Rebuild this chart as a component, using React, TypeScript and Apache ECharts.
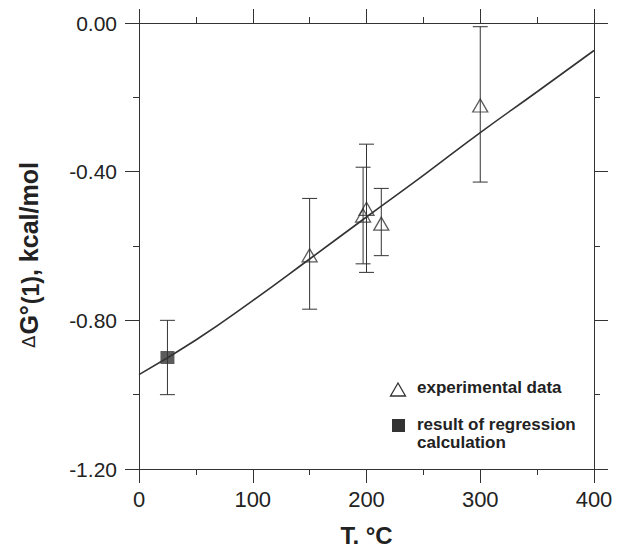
import React, { useEffect, useRef } from "react";
import * as echarts from "echarts";

// Experimental data (triangles)
const expT = [150, 197, 200, 213, 300];
const expG = [-0.625, -0.518, -0.5, -0.54, -0.222];
const expLow = [-0.77, -0.648, -0.671, -0.626, -0.428];
const expHigh = [-0.472, -0.388, -0.326, -0.445, -0.01];

// Regression result (square)
const regT = [25];
const regG = [-0.9];
const regLow = [-1.0];
const regHigh = [-0.8];

// Fitted curve
const fitT = [0, 50, 100, 150, 200, 250, 300, 350, 400];
const fitG = [-0.946, -0.853, -0.747, -0.635, -0.522, -0.41, -0.295, -0.185, -0.074];

const xTicks = [0, 100, 200, 300, 400];

const INK = "#333";
const FONT = "Liberation Sans, Arial, sans-serif";

export default function App() {
  const ref = useRef<HTMLDivElement>(null);
  useEffect(() => {
    if (!ref.current) return;
    const chart = echarts.init(ref.current, null, { renderer: "svg" });

    const errData = [
      ...expT.map((t, i) => [t, expLow[i], expHigh[i]]),
      ...regT.map((t, i) => [t, regLow[i], regHigh[i]]),
    ];

    const axisCommon = {
      axisLine: { show: true, onZero: false, lineStyle: { color: INK, width: 1 } },
      axisTick: { show: true, inside: false, length: 14, lineStyle: { color: INK } },
      minorTick: { show: true, splitNumber: 2, length: 6, lineStyle: { color: INK } },
      splitLine: { show: false },
    };

    const option: any = {
      animation: false,
      backgroundColor: "#fff",
      grid: { left: 139, right: 30, top: 23, bottom: 77, containLabel: false },
      xAxis: [
        {
          type: "value",
          min: 0,
          max: 400,
          interval: 100,
          position: "bottom",
          ...axisCommon,
          axisLabel: {
            show: true,
            margin: 19,
            fontSize: 22,
            color: "#222",
            fontFamily: FONT,
            customValues: xTicks,
          },
          name: "T, °C",
          nameLocation: "middle",
          nameGap: 54,
          nameTextStyle: {
            fontSize: 24,
            fontWeight: "bold",
            color: "#222",
            fontFamily: FONT,
          },
        },
        {
          type: "value",
          min: 0,
          max: 400,
          interval: 100,
          position: "top",
          ...axisCommon,
          axisLabel: { show: false },
        },
      ],
      yAxis: [
        {
          type: "value",
          min: -1.2,
          max: 0,
          interval: 0.4,
          position: "left",
          ...axisCommon,
          axisLabel: {
            show: true,
            margin: 22,
            fontSize: 21,
            color: "#222",
            fontFamily: FONT,
            formatter: (v: number) => v.toFixed(2),
          },
          name: "{d|Δ}{g|G°}{p|(1)}{g|, kcal/mol}",
          nameLocation: "middle",
          nameGap: 97,
          nameRotate: 90,
          nameTextStyle: {
            color: "#222",
            fontFamily: FONT,
            padding: [0, 18, 0, 0],
            rich: {
              d: { fontSize: 18, fontWeight: "normal", color: "#222", fontFamily: "DejaVu Sans, sans-serif", padding: [0, 1, 0, 0] },
              g: { fontSize: 25, fontWeight: "bold", color: "#222", fontFamily: FONT },
              p: { fontSize: 23, fontWeight: "bold", color: "#222", fontFamily: FONT, padding: [4, 0, 0, 1] },
            },
          },
        },
        {
          type: "value",
          min: -1.2,
          max: 0,
          interval: 0.4,
          position: "right",
          ...axisCommon,
          axisLabel: { show: false },
        },
      ],
      series: [
        {
          name: "fit",
          type: "line",
          data: fitT.map((t, i) => [t, fitG[i]]),
          smooth: true,
          showSymbol: false,
          lineStyle: { color: INK, width: 1.6 },
          z: 2,
        },
        {
          name: "errors",
          type: "custom",
          data: errData,
          z: 3,
          renderItem: (params: any, api: any) => {
            const x = api.value(0);
            const lo = api.coord([x, api.value(1)]);
            const hi = api.coord([x, api.value(2)]);
            const w = 7.5;
            const style = { stroke: INK, lineWidth: 1 };
            return {
              type: "group",
              children: [
                { type: "line", shape: { x1: lo[0], y1: lo[1], x2: hi[0], y2: hi[1] }, style },
                { type: "line", shape: { x1: lo[0] - w, y1: lo[1], x2: lo[0] + w, y2: lo[1] }, style },
                { type: "line", shape: { x1: hi[0] - w, y1: hi[1], x2: hi[0] + w, y2: hi[1] }, style },
              ],
            };
          },
        },
        {
          name: "experimental data",
          type: "scatter",
          data: expT.map((t, i) => [t, expG[i]]),
          symbol: "triangle",
          symbolSize: [15, 13],
          itemStyle: { color: "rgba(255,255,255,0)", borderColor: INK, borderWidth: 1.3 },
          z: 4,
        },
        {
          name: "result of regression calculation",
          type: "scatter",
          data: regT.map((t, i) => [t, regG[i]]),
          symbol: "rect",
          symbolSize: [14, 13],
          itemStyle: { color: INK },
          z: 4,
        },
      ],
      graphic: [
        {
          type: "polygon",
          shape: { points: [[398, 383], [390.5, 396], [405.5, 396]] },
          style: { fill: "rgba(255,255,255,0)", stroke: INK, lineWidth: 1.3 },
        },
        {
          type: "rect",
          shape: { x: 392, y: 419, width: 13, height: 13 },
          style: { fill: INK },
        },
        {
          type: "text",
          x: 417,
          y: 387,
          style: {
            text: "experimental data",
            fontSize: 17,
            fontWeight: "bold",
            fill: "#222",
            fontFamily: FONT,
            verticalAlign: "middle",
          },
        },
        {
          type: "text",
          x: 417,
          y: 424,
          style: {
            text: "result of regression",
            fontSize: 17,
            fontWeight: "bold",
            fill: "#222",
            fontFamily: FONT,
            verticalAlign: "middle",
          },
        },
        {
          type: "text",
          x: 417,
          y: 442,
          style: {
            text: "calculation",
            fontSize: 17,
            fontWeight: "bold",
            fill: "#222",
            fontFamily: FONT,
            verticalAlign: "middle",
          },
        },
      ],
    };

    chart.setOption(option);
    return () => chart.dispose();
  }, []);

  return <div ref={ref} style={{ width: 624, height: 552, margin: -8 }} />;
}
